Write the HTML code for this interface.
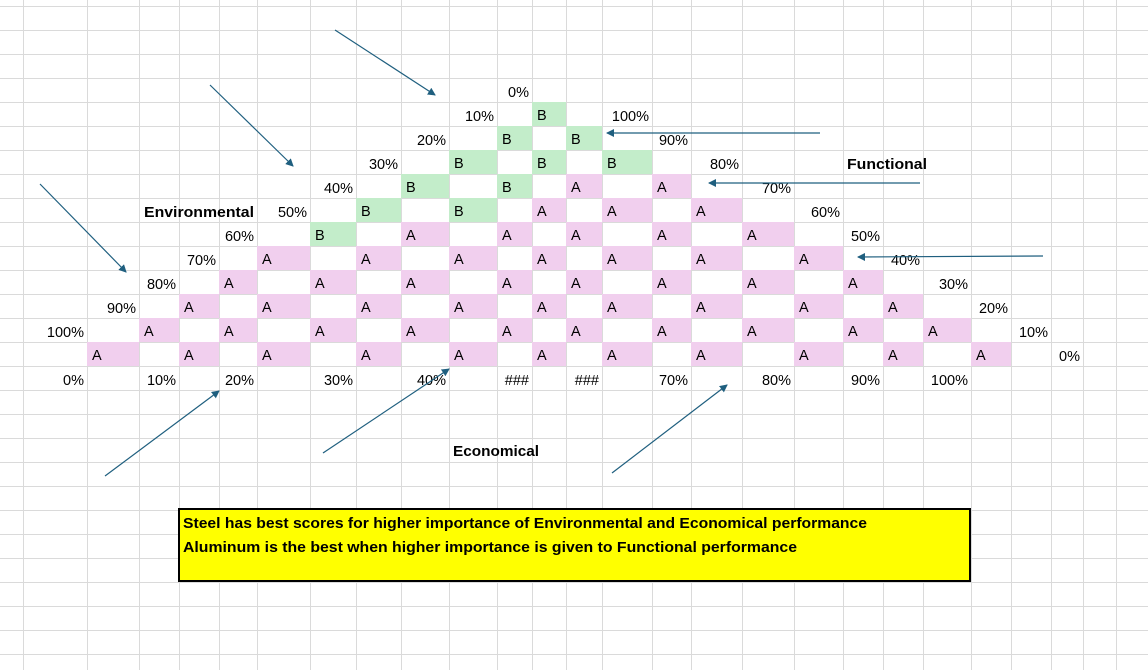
<!DOCTYPE html>
<html><head><meta charset="utf-8"><style>
html,body{margin:0;padding:0;background:#fff;width:1148px;height:670px;overflow:hidden}
svg{display:block}
text{font-family:"Liberation Sans",sans-serif;font-size:14.5px;fill:#000}
.r{text-anchor:end}
.b{font-weight:bold}
</style></head><body>
<svg width="1148" height="670" viewBox="0 0 1148 670" xmlns="http://www.w3.org/2000/svg">
<defs><marker id="ah" markerWidth="8" markerHeight="8" refX="7" refY="4" orient="auto" markerUnits="userSpaceOnUse"><path d="M0,0 L8,4 L0,8 Z" fill="#1f5f7f"/></marker></defs>
<g stroke="#dadada" stroke-width="1">
<line x1="23.5" y1="0" x2="23.5" y2="670"/><line x1="87.5" y1="0" x2="87.5" y2="670"/><line x1="139.5" y1="0" x2="139.5" y2="670"/><line x1="179.5" y1="0" x2="179.5" y2="670"/><line x1="219.5" y1="0" x2="219.5" y2="670"/><line x1="257.5" y1="0" x2="257.5" y2="670"/><line x1="310.5" y1="0" x2="310.5" y2="670"/><line x1="356.5" y1="0" x2="356.5" y2="670"/><line x1="401.5" y1="0" x2="401.5" y2="670"/><line x1="449.5" y1="0" x2="449.5" y2="670"/><line x1="497.5" y1="0" x2="497.5" y2="670"/><line x1="532.5" y1="0" x2="532.5" y2="670"/><line x1="566.5" y1="0" x2="566.5" y2="670"/><line x1="602.5" y1="0" x2="602.5" y2="670"/><line x1="652.5" y1="0" x2="652.5" y2="670"/><line x1="691.5" y1="0" x2="691.5" y2="670"/><line x1="742.5" y1="0" x2="742.5" y2="670"/><line x1="794.5" y1="0" x2="794.5" y2="670"/><line x1="843.5" y1="0" x2="843.5" y2="670"/><line x1="883.5" y1="0" x2="883.5" y2="670"/><line x1="923.5" y1="0" x2="923.5" y2="670"/><line x1="971.5" y1="0" x2="971.5" y2="670"/><line x1="1011.5" y1="0" x2="1011.5" y2="670"/><line x1="1051.5" y1="0" x2="1051.5" y2="670"/><line x1="1083.5" y1="0" x2="1083.5" y2="670"/><line x1="1116.5" y1="0" x2="1116.5" y2="670"/>
<line x1="0" y1="6.5" x2="1148" y2="6.5"/><line x1="0" y1="30.5" x2="1148" y2="30.5"/><line x1="0" y1="54.5" x2="1148" y2="54.5"/><line x1="0" y1="78.5" x2="1148" y2="78.5"/><line x1="0" y1="102.5" x2="1148" y2="102.5"/><line x1="0" y1="126.5" x2="1148" y2="126.5"/><line x1="0" y1="150.5" x2="1148" y2="150.5"/><line x1="0" y1="174.5" x2="1148" y2="174.5"/><line x1="0" y1="198.5" x2="1148" y2="198.5"/><line x1="0" y1="222.5" x2="1148" y2="222.5"/><line x1="0" y1="246.5" x2="1148" y2="246.5"/><line x1="0" y1="270.5" x2="1148" y2="270.5"/><line x1="0" y1="294.5" x2="1148" y2="294.5"/><line x1="0" y1="318.5" x2="1148" y2="318.5"/><line x1="0" y1="342.5" x2="1148" y2="342.5"/><line x1="0" y1="366.5" x2="1148" y2="366.5"/><line x1="0" y1="390.5" x2="1148" y2="390.5"/><line x1="0" y1="414.5" x2="1148" y2="414.5"/><line x1="0" y1="438.5" x2="1148" y2="438.5"/><line x1="0" y1="462.5" x2="1148" y2="462.5"/><line x1="0" y1="486.5" x2="1148" y2="486.5"/><line x1="0" y1="510.5" x2="1148" y2="510.5"/><line x1="0" y1="534.5" x2="1148" y2="534.5"/><line x1="0" y1="558.5" x2="1148" y2="558.5"/><line x1="0" y1="582.5" x2="1148" y2="582.5"/><line x1="0" y1="606.5" x2="1148" y2="606.5"/><line x1="0" y1="630.5" x2="1148" y2="630.5"/><line x1="0" y1="654.5" x2="1148" y2="654.5"/>
</g>
<!-- green cells -->
<g fill="#c3edca">
<rect x="532" y="102" width="34" height="24"/>
<rect x="497" y="126" width="35" height="24"/><rect x="566" y="126" width="36" height="24"/>
<rect x="449" y="150" width="48" height="24"/><rect x="532" y="150" width="34" height="24"/><rect x="602" y="150" width="50" height="24"/>
<rect x="401" y="174" width="48" height="24"/><rect x="497" y="174" width="35" height="24"/>
<rect x="356" y="198" width="45" height="24"/><rect x="449" y="198" width="48" height="24"/>
<rect x="310" y="222" width="46" height="24"/>
</g>
<!-- pink cells -->
<g fill="#f1cfee">
<rect x="566" y="174" width="36" height="24"/><rect x="652" y="174" width="39" height="24"/>
<rect x="532" y="198" width="34" height="24"/><rect x="602" y="198" width="50" height="24"/><rect x="691" y="198" width="51" height="24"/>
<rect x="401" y="222" width="48" height="24"/><rect x="497" y="222" width="35" height="24"/><rect x="566" y="222" width="36" height="24"/><rect x="652" y="222" width="39" height="24"/><rect x="742" y="222" width="52" height="24"/>
<rect x="257" y="246" width="53" height="24"/><rect x="356" y="246" width="45" height="24"/><rect x="449" y="246" width="48" height="24"/><rect x="532" y="246" width="34" height="24"/><rect x="602" y="246" width="50" height="24"/><rect x="691" y="246" width="51" height="24"/><rect x="794" y="246" width="49" height="24"/>
<rect x="219" y="270" width="38" height="24"/><rect x="310" y="270" width="46" height="24"/><rect x="401" y="270" width="48" height="24"/><rect x="497" y="270" width="35" height="24"/><rect x="566" y="270" width="36" height="24"/><rect x="652" y="270" width="39" height="24"/><rect x="742" y="270" width="52" height="24"/><rect x="843" y="270" width="40" height="24"/>
<rect x="179" y="294" width="40" height="24"/><rect x="257" y="294" width="53" height="24"/><rect x="356" y="294" width="45" height="24"/><rect x="449" y="294" width="48" height="24"/><rect x="532" y="294" width="34" height="24"/><rect x="602" y="294" width="50" height="24"/><rect x="691" y="294" width="51" height="24"/><rect x="794" y="294" width="49" height="24"/><rect x="883" y="294" width="40" height="24"/>
<rect x="139" y="318" width="40" height="24"/><rect x="219" y="318" width="38" height="24"/><rect x="310" y="318" width="46" height="24"/><rect x="401" y="318" width="48" height="24"/><rect x="497" y="318" width="35" height="24"/><rect x="566" y="318" width="36" height="24"/><rect x="652" y="318" width="39" height="24"/><rect x="742" y="318" width="52" height="24"/><rect x="843" y="318" width="40" height="24"/><rect x="923" y="318" width="48" height="24"/>
<rect x="87" y="342" width="52" height="24"/><rect x="179" y="342" width="40" height="24"/><rect x="257" y="342" width="53" height="24"/><rect x="356" y="342" width="45" height="24"/><rect x="449" y="342" width="48" height="24"/><rect x="532" y="342" width="34" height="24"/><rect x="602" y="342" width="50" height="24"/><rect x="691" y="342" width="51" height="24"/><rect x="794" y="342" width="49" height="24"/><rect x="883" y="342" width="40" height="24"/><rect x="971" y="342" width="40" height="24"/>
</g>
<!-- cell letters -->
<g>
<text x="537" y="120">B</text>
<text x="502" y="144">B</text><text x="571" y="144">B</text>
<text x="454" y="168">B</text><text x="537" y="168">B</text><text x="607" y="168">B</text>
<text x="406" y="192">B</text><text x="502" y="192">B</text><text x="571" y="192">A</text><text x="657" y="192">A</text>
<text x="361" y="216">B</text><text x="454" y="216">B</text><text x="537" y="216">A</text><text x="607" y="216">A</text><text x="696" y="216">A</text>
<text x="315" y="240">B</text><text x="406" y="240">A</text><text x="502" y="240">A</text><text x="571" y="240">A</text><text x="657" y="240">A</text><text x="747" y="240">A</text>
<text x="262" y="264">A</text><text x="361" y="264">A</text><text x="454" y="264">A</text><text x="537" y="264">A</text><text x="607" y="264">A</text><text x="696" y="264">A</text><text x="799" y="264">A</text>
<text x="224" y="288">A</text><text x="315" y="288">A</text><text x="406" y="288">A</text><text x="502" y="288">A</text><text x="571" y="288">A</text><text x="657" y="288">A</text><text x="747" y="288">A</text><text x="848" y="288">A</text>
<text x="184" y="312">A</text><text x="262" y="312">A</text><text x="361" y="312">A</text><text x="454" y="312">A</text><text x="537" y="312">A</text><text x="607" y="312">A</text><text x="696" y="312">A</text><text x="799" y="312">A</text><text x="888" y="312">A</text>
<text x="144" y="336">A</text><text x="224" y="336">A</text><text x="315" y="336">A</text><text x="406" y="336">A</text><text x="502" y="336">A</text><text x="571" y="336">A</text><text x="657" y="336">A</text><text x="747" y="336">A</text><text x="848" y="336">A</text><text x="928" y="336">A</text>
<text x="92" y="360">A</text><text x="184" y="360">A</text><text x="262" y="360">A</text><text x="361" y="360">A</text><text x="454" y="360">A</text><text x="537" y="360">A</text><text x="607" y="360">A</text><text x="696" y="360">A</text><text x="799" y="360">A</text><text x="888" y="360">A</text><text x="976" y="360">A</text>
</g>
<!-- percentage labels -->
<g class="r">
<text class="r" x="529" y="97">0%</text>
<text class="r" x="494" y="121">10%</text><text class="r" x="649" y="121">100%</text>
<text class="r" x="446" y="145">20%</text><text class="r" x="688" y="145">90%</text>
<text class="r" x="398" y="169">30%</text><text class="r" x="739" y="169">80%</text>
<text class="r" x="353" y="193">40%</text><text class="r" x="791" y="193">70%</text>
<text class="r" x="307" y="217">50%</text><text class="r" x="840" y="217">60%</text>
<text class="r" x="254" y="241">60%</text><text class="r" x="880" y="241">50%</text>
<text class="r" x="216" y="265">70%</text><text class="r" x="920" y="265">40%</text>
<text class="r" x="176" y="289">80%</text><text class="r" x="968" y="289">30%</text>
<text class="r" x="136" y="313">90%</text><text class="r" x="1008" y="313">20%</text>
<text class="r" x="84" y="337">100%</text><text class="r" x="1048" y="337">10%</text>
<text class="r" x="1080" y="361">0%</text>
<text class="r" x="84" y="385">0%</text><text class="r" x="176" y="385">10%</text><text class="r" x="254" y="385">20%</text><text class="r" x="353" y="385">30%</text><text class="r" x="446" y="385">40%</text><text class="r" x="529" y="385">###</text><text class="r" x="599" y="385">###</text><text class="r" x="688" y="385">70%</text><text class="r" x="791" y="385">80%</text><text class="r" x="880" y="385">90%</text><text class="r" x="968" y="385">100%</text>
</g>
<text class="b r" x="254" y="217" textLength="110" lengthAdjust="spacingAndGlyphs">Environmental</text>
<text class="b" x="847" y="169" textLength="80" lengthAdjust="spacingAndGlyphs">Functional</text>
<text class="b" x="453" y="456" textLength="86" lengthAdjust="spacingAndGlyphs">Economical</text>
<!-- arrows -->
<g stroke="#1f5f7f" stroke-width="1.2" fill="none" marker-end="url(#ah)">
<line x1="335" y1="30" x2="435" y2="95"/>
<line x1="210" y1="85" x2="293" y2="166"/>
<line x1="40" y1="184" x2="126" y2="272"/>
<line x1="820" y1="133" x2="607" y2="133"/>
<line x1="920" y1="183" x2="709" y2="183"/>
<line x1="1043" y1="256" x2="858" y2="257"/>
<line x1="105" y1="476" x2="219" y2="391"/>
<line x1="323" y1="453" x2="449" y2="369"/>
<line x1="612" y1="473" x2="727" y2="385"/>
</g>
<!-- yellow note -->
<rect x="179" y="509" width="791" height="72" fill="#ffff00" stroke="#000" stroke-width="2"/>
<text class="b" x="183" y="528" textLength="684" lengthAdjust="spacingAndGlyphs">Steel has best scores for higher importance of Environmental and Economical performance</text>
<text class="b" x="183" y="552" textLength="614" lengthAdjust="spacingAndGlyphs">Aluminum is the best when higher importance is given to Functional performance</text>
</svg>
</body></html>
